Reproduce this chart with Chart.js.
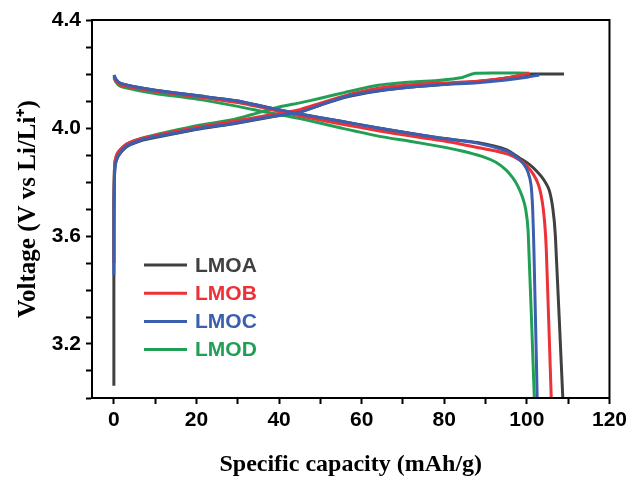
<!DOCTYPE html>
<html>
<head>
<meta charset="utf-8">
<script src="https://cdn.jsdelivr.net/npm/chart.js@4"></script>
<style>
  html, body { margin: 0; padding: 0; background: #fff; }
  #wrap { width: 631px; height: 479px; }
</style>
</head>
<body>
<div id="wrap"><canvas id="capacityChart"></canvas></div>
<script>
// sample names and colours
const names = ["LMOA", "LMOB", "LMOC", "LMOD"];
const colors = ["rgb(64,64,64)", "rgb(237,49,54)", "rgb(58,95,175)", "rgb(33,160,85)"];

// charge curves (capacity mAh/g, voltage V)
const chargeCapA = [0, 0, 0.1, 0.3, 1, 3, 7, 13, 21, 29, 37, 45, 50, 56, 64, 72, 80, 88, 95, 100, 101, 109];
const chargeVoltA = [3.045, 3.6, 3.8, 3.86, 3.895, 3.93, 3.955, 3.974, 3.997, 4.016, 4.038, 4.06, 4.085, 4.114, 4.137, 4.152, 4.162, 4.172, 4.185, 4.198, 4.2, 4.2];
const chargeCapB = [0, 0, 0.1, 0.3, 1, 3, 7, 13, 21, 29, 37, 45, 50, 56, 64, 72, 80, 88, 95, 100.6];
const chargeVoltB = [3.5, 3.7, 3.83, 3.88, 3.91, 3.94, 3.962, 3.982, 4.005, 4.025, 4.046, 4.068, 4.092, 4.12, 4.147, 4.16, 4.167, 4.173, 4.185, 4.203];
const chargeCapC = [0, 0, 0.15, 0.4, 1.2, 3, 7, 13, 21, 29, 37, 45, 50, 56, 64, 72, 80, 88, 95, 100, 103];
const chargeVoltC = [3.455, 3.7, 3.82, 3.87, 3.9, 3.932, 3.958, 3.976, 3.999, 4.017, 4.04, 4.058, 4.085, 4.116, 4.138, 4.152, 4.161, 4.168, 4.178, 4.188, 4.196];
const chargeCapD = [0, 0, 0.1, 0.3, 1, 3, 7, 13, 21, 29, 40, 45, 50, 56, 64, 72, 79, 84, 87.5, 100.6];
const chargeVoltD = [3.5, 3.7, 3.83, 3.88, 3.91, 3.94, 3.963, 3.985, 4.011, 4.032, 4.078, 4.093, 4.11, 4.132, 4.158, 4.17, 4.177, 4.186, 4.203, 4.203];

// discharge curves
const dischargeCapA = [0, 0.5, 1.5, 5, 10, 20, 30, 37, 45, 55, 64, 72, 79, 88, 95, 98.2, 100.5, 102.5, 104, 105.4, 106.3, 106.9, 108.7];
const dischargeVoltA = [4.196, 4.18, 4.166, 4.153, 4.14, 4.12, 4.1, 4.077, 4.052, 4.025, 4.0, 3.98, 3.963, 3.946, 3.92, 3.889, 3.866, 3.838, 3.81, 3.77, 3.7, 3.6, 3.0];
const dischargeCapB = [0, 0.5, 1.5, 5, 10, 20, 30, 37, 45, 55, 64, 72, 80, 88, 95, 98.2, 99.8, 101.5, 102.8, 103.7, 104.3, 104.7, 105.9];
const dischargeVoltB = [4.19, 4.175, 4.16, 4.148, 4.136, 4.116, 4.094, 4.072, 4.045, 4.015, 3.99, 3.97, 3.952, 3.928, 3.905, 3.882, 3.862, 3.83, 3.79, 3.73, 3.65, 3.55, 3.0];
const dischargeCapC = [0, 0.5, 1.5, 5, 10, 20, 30, 37, 45, 55, 64, 72, 79, 88, 95, 97.5, 99.2, 100.3, 101, 101.4, 101.7, 102.5];
const dischargeVoltC = [4.196, 4.18, 4.166, 4.153, 4.14, 4.12, 4.1, 4.077, 4.052, 4.025, 4.0, 3.98, 3.963, 3.944, 3.915, 3.892, 3.867, 3.835, 3.79, 3.7, 3.55, 3.0];
const dischargeCapD = [0, 0.5, 1.5, 5, 10, 20, 30, 37, 45, 55, 64, 72, 78.8, 84, 89.3, 92.5, 95, 96.6, 97.8, 98.9, 99.7, 100.3, 101.8];
const dischargeVoltD = [4.185, 4.17, 4.155, 4.142, 4.128, 4.107, 4.08, 4.058, 4.035, 4.0, 3.97, 3.95, 3.932, 3.916, 3.894, 3.873, 3.844, 3.815, 3.785, 3.745, 3.7, 3.62, 3.0];

// axis ticks
const xTickLabels = [0, 20, 40, 60, 80, 100, 120];
const yTickLabels = [3.2, 3.6, 4.0, 4.4];

const charge = [
  [chargeCapA, chargeVoltA],
  [chargeCapB, chargeVoltB],
  [chargeCapC, chargeVoltC],
  [chargeCapD, chargeVoltD],
];
const discharge = [
  [dischargeCapA, dischargeVoltA],
  [dischargeCapB, dischargeVoltB],
  [dischargeCapC, dischargeVoltC],
  [dischargeCapD, dischargeVoltD],
];

// draw order: blue on top, then red, green, black
const drawOrder = [3, 1, 0, 2];

const toPoints = (xs, ys) => xs.map((x, i) => ({ x: x, y: ys[i] }));

const datasets = [];
names.forEach((name, i) => {
  [charge[i], discharge[i]].forEach((curve) => {
    datasets.push({
      label: name,
      data: toPoints(curve[0], curve[1]),
      borderColor: colors[i],
      backgroundColor: colors[i],
      borderWidth: 3,
      pointRadius: 0,
      showLine: true,
      tension: 0.2,
      order: drawOrder[i],
    });
  });
});

// frame on top and right + legend inside the plot
const framePlugin = {
  id: "frame",
  afterDraw(chart) {
    const { ctx, chartArea } = chart;
    ctx.save();
    ctx.strokeStyle = "#000";
    ctx.lineWidth = 2;
    ctx.strokeRect(chartArea.left, chartArea.top, chartArea.right - chartArea.left, chartArea.bottom - chartArea.top);

    ctx.font = "bold 21px 'Liberation Sans', Arial, sans-serif";
    ctx.textBaseline = "middle";
    names.forEach((name, i) => {
      const y = 265 + i * 28.2;
      ctx.strokeStyle = colors[i];
      ctx.lineWidth = 3;
      ctx.beginPath();
      ctx.moveTo(144, y);
      ctx.lineTo(187, y);
      ctx.stroke();
      ctx.fillStyle = colors[i];
      ctx.fillText(name, 195, y + 1);
    });
    ctx.restore();
  },
};

const tickFont = { family: "'Liberation Sans', Arial, sans-serif", size: 21, weight: "bold" };
const titleFont = { family: "'Liberation Serif', 'Times New Roman', serif", size: 24, weight: "bold" };

new Chart(document.getElementById("capacityChart").getContext("2d"), {
  type: "scatter",
  data: { datasets: datasets },
  plugins: [framePlugin],
  options: {
    responsive: true,
    maintainAspectRatio: false,
    animation: false,
    layout: { padding: { left: 0, right: 20, top: 20, bottom: 0 } },
    plugins: {
      legend: { display: false },
      tooltip: { enabled: false },
    },
    scales: {
      x: {
        type: "linear",
        min: -5.3,
        max: 120,
        afterBuildTicks: (scale) => {
          const t = [];
          for (let v = 0; v <= 120; v += 10) t.push({ value: v });
          scale.ticks = t;
        },
        afterFit: (scale) => { scale.height = 81; },
        ticks: {
          color: "#000",
          font: tickFont,
          padding: 4,
          maxRotation: 0,
          autoSkip: false,
          callback: (v) => (xTickLabels.includes(v) ? String(v) : ""),
        },
        grid: { display: true, drawOnChartArea: false, drawTicks: true, tickLength: 6, tickColor: "#000", tickWidth: 2 },
        border: { display: true, color: "#000", width: 2 },
        title: { display: true, text: "Specific capacity (mAh/g)", color: "#000", font: titleFont, padding: { top: 11, bottom: 0 } },
      },
      y: {
        type: "linear",
        min: 3.0,
        max: 4.4,
        afterBuildTicks: (scale) => {
          const t = [];
          for (let k = 30; k <= 44; k++) t.push({ value: k / 10 });
          scale.ticks = t;
        },
        afterFit: (scale) => { scale.width = 92; },
        ticks: {
          color: "#000",
          font: tickFont,
          padding: 5,
          autoSkip: false,
          callback: (v) => {
            const hit = yTickLabels.find((t) => Math.abs(t - v) < 1e-6);
            return hit !== undefined ? hit.toFixed(1) : "";
          },
        },
        grid: { display: true, drawOnChartArea: false, drawTicks: true, tickLength: 6, tickColor: "#000", tickWidth: 2 },
        border: { display: true, color: "#000", width: 2 },
        title: { display: true, text: "Voltage (V vs Li/Li⁺)", color: "#000", font: { family: titleFont.family, size: 25, weight: "bold" }, padding: { top: 14, bottom: 0 } },
      },
    },
  },
});
</script>
</body>
</html>
